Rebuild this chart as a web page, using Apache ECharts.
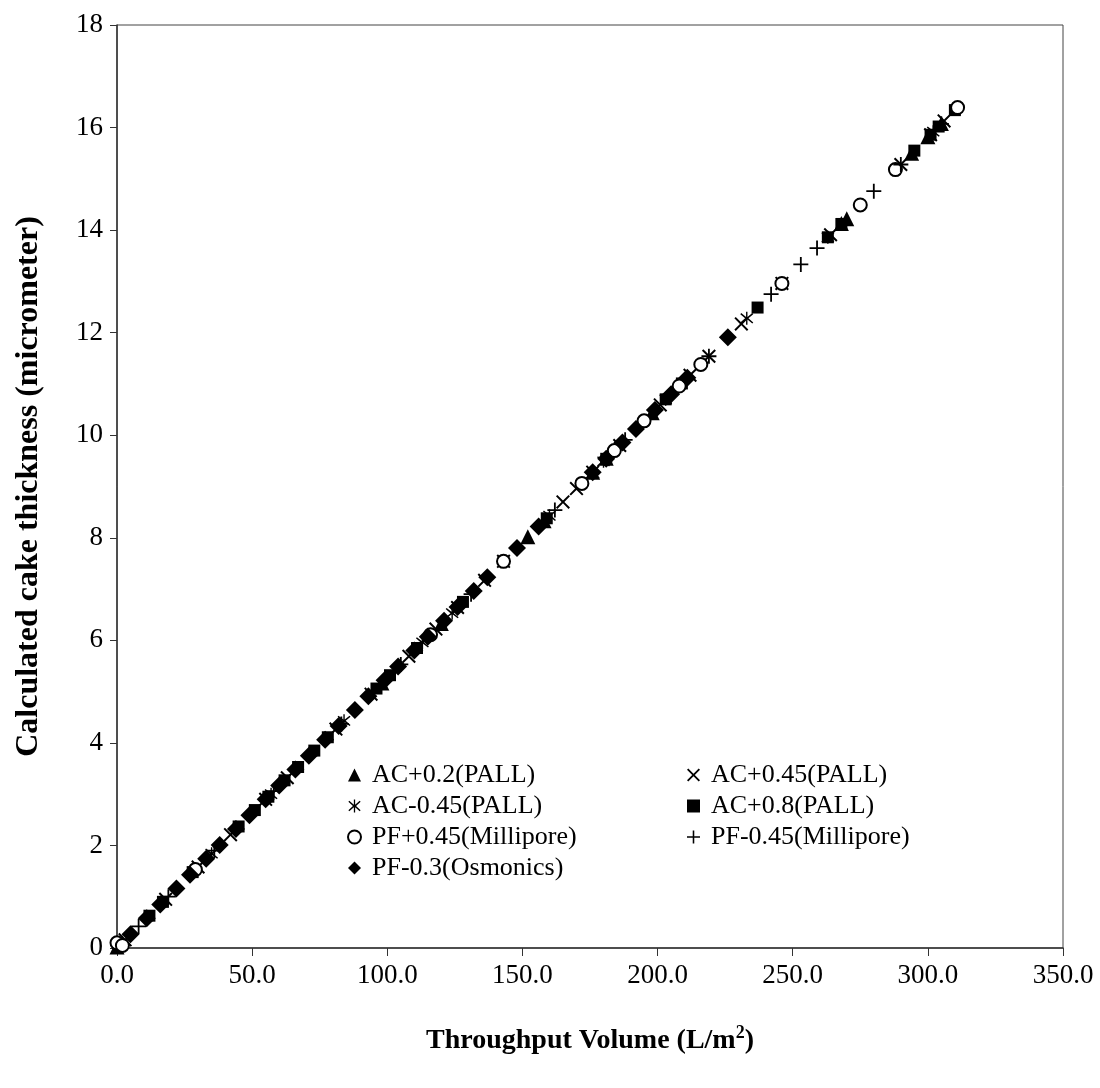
<!DOCTYPE html>
<html>
<head>
<meta charset="utf-8">
<script src="https://cdn.jsdelivr.net/npm/echarts@6/dist/echarts.min.js"></script>
<style>
html,body{margin:0;padding:0;background:#fff;}
#chart{width:1100px;height:1088px;}
</style>
</head>
<body>
<div id="chart"></div>
<script>
// ---- Data ----
const seriesNames = ['AC+0.2(PALL)','AC+0.45(PALL)','AC-0.45(PALL)','AC+0.8(PALL)','PF+0.45(Millipore)','PF-0.45(Millipore)','PF-0.3(Osmonics)'];

const ac02_x = [0,98,120,152,158,176,181,198,268,270,294,300,305];
const ac02_y = [0.02,5.17,6.33,8.02,8.33,9.28,9.55,10.44,14.13,14.22,15.50,15.82,16.08];

const ac045p_x = [3,18,30,42,55,63,81,94,108,118,126,136,143,165,170,176,186,201,212,219,231,246,264,290,301,306];
const ac045p_y = [0.16,0.95,1.58,2.21,2.90,3.32,4.27,4.95,5.69,6.22,6.64,7.17,7.54,8.70,8.96,9.28,9.80,10.59,11.17,11.54,12.17,12.96,13.91,15.28,15.86,16.13];

const ac045m_x = [2,35,57,84,113,124,160,180,203,233,263,302];
const ac045m_y = [0.11,1.84,3.00,4.43,5.96,6.53,8.43,9.49,10.70,12.28,13.86,15.92];

const ac08_x = [12,17,28,45,51,56,62,67,73,78,96,101,111,128,159,181,203,209,237,263,268,295,301,304,310];
const ac08_y = [0.63,0.90,1.48,2.37,2.69,2.95,3.27,3.53,3.85,4.11,5.06,5.32,5.85,6.75,8.38,9.54,10.70,11.01,12.49,13.86,14.12,15.55,15.86,16.02,16.34];

const pf045p_x = [0,2,29,116,143,172,184,195,208,216,246,275,288,311];
const pf045p_y = [0.10,0.05,1.53,6.11,7.54,9.06,9.70,10.28,10.96,11.38,12.96,14.49,15.18,16.39];

const pf045m_x = [8,19,36,58,83,105,131,162,188,219,242,253,259,280,290,305];
const pf045m_y = [0.42,1.00,1.90,3.06,4.37,5.53,6.90,8.54,9.91,11.54,12.75,13.33,13.65,14.76,15.28,16.07];

const pf03_x = [5,11,16,22,27,33,38,44,49,55,60,66,71,77,82,88,93,99,104,110,115,121,126,132,137,148,156,176,181,187,192,199,205,211,226];
const pf03_y = [0.27,0.58,0.85,1.16,1.43,1.74,2.01,2.32,2.59,2.90,3.17,3.48,3.75,4.06,4.33,4.64,4.91,5.22,5.49,5.80,6.07,6.38,6.65,6.96,7.23,7.80,8.22,9.28,9.54,9.86,10.12,10.49,10.80,11.12,11.91];

const xTicks = {min:0, max:350, interval:50};
const yTicks = {min:0, max:18, interval:2};

// ---- Symbols ----
const CROSS = 'path://M1,0 L5,4 L9,0 L10,1 L6,5 L10,9 L9,10 L5,6 L1,10 L0,9 L4,5 L0,1 Z';
const PLUS = 'path://M4.4,0 L5.6,0 L5.6,4.4 L10,4.4 L10,5.6 L5.6,5.6 L5.6,10 L4.4,10 L4.4,5.6 L0,5.6 L0,4.4 L4.4,4.4 Z';
const STAR = 'path://M4.5,0 L5.5,0 L5.5,4 L9,1 L9.7,1.8 L6.2,5 L9.7,8.2 L9,9 L5.5,6 L5.5,10 L4.5,10 L4.5,6 L1,9 L0.3,8.2 L3.8,5 L0.3,1.8 L1,1 L4.5,4 Z';

function zip(xs, ys){ return xs.map((v,i)=>[v, ys[i]]); }

const font = '"Liberation Serif", "Times New Roman", serif';

function mk(name, xs, ys, symbol, size, style){
  return {
    name: name, type: 'scatter', data: zip(xs, ys),
    symbol: symbol, symbolSize: size,
    itemStyle: Object.assign({color:'#000', opacity:1}, style||{}),
    emphasis: {disabled:true}, animation:false
  };
}

const series = [
  mk(seriesNames[0], ac02_x, ac02_y, 'triangle', 15),
  mk(seriesNames[1], ac045p_x, ac045p_y, CROSS, 14),
  mk(seriesNames[2], ac045m_x, ac045m_y, STAR, 13),
  mk(seriesNames[3], ac08_x, ac08_y, 'rect', 12),
  mk(seriesNames[4], pf045p_x, pf045p_y, 'circle', 13, {color:'#fff', borderColor:'#000', borderWidth:2}),
  mk(seriesNames[5], pf045m_x, pf045m_y, PLUS, 15),
  mk(seriesNames[6], pf03_x, pf03_y, 'diamond', 18)
];

const chart = echarts.init(document.getElementById('chart'), null, {renderer:'canvas'});
const legendText = {fontFamily: font, fontSize: 26, color:'#000', padding:[0,0,0,6]};
chart.setOption({
  backgroundColor:'#fff',
  animation:false,
  grid:{left:117, right:37, top:25, bottom:140, show:true, borderColor:'#444', borderWidth:1, backgroundColor:'transparent'},
  legend:[
    {data:[seriesNames[0],seriesNames[2],seriesNames[4],seriesNames[6]], orient:'vertical', left:342, top:757, itemWidth:13, itemHeight:13, itemGap:5, textStyle:legendText, selectedMode:false},
    {data:[seriesNames[1],seriesNames[3],seriesNames[5]], orient:'vertical', left:682, top:757, itemWidth:13, itemHeight:13, itemGap:5, textStyle:legendText, selectedMode:false}
  ],
  xAxis:{
    type:'value', min:xTicks.min, max:xTicks.max, interval:xTicks.interval,
    splitLine:{show:false},
    axisLine:{lineStyle:{color:'#333', width:1.5}},
    axisTick:{show:true, length:8, lineStyle:{color:'#333'}},
    axisLabel:{fontFamily:font, fontSize:27, color:'#000', margin:14, formatter:v=>v.toFixed(1)},
    name:'{a|Throughput Volume (L/m}{s|2}{a|)}',
    nameLocation:'middle', nameGap:76,
    nameTextStyle:{rich:{
      a:{fontFamily:font, fontSize:28, fontWeight:'bold', color:'#000'},
      s:{fontFamily:font, fontSize:18, fontWeight:'bold', color:'#000', verticalAlign:'top', padding:[0,0,16,0]}
    }}
  },
  yAxis:{
    type:'value', min:yTicks.min, max:yTicks.max, interval:yTicks.interval,
    splitLine:{show:false},
    axisLine:{show:true, lineStyle:{color:'#333', width:1.5}},
    axisTick:{show:true, length:7, lineStyle:{color:'#333'}},
    axisLabel:{fontFamily:font, fontSize:27, color:'#000', margin:14},
    name:'Calculated cake thickness (micrometer)',
    nameLocation:'middle', nameGap:72, nameRotate:90,
    nameTextStyle:{fontFamily:font, fontSize:32, fontWeight:'bold', color:'#000'}
  },
  series: series
});
</script>
</body>
</html>
